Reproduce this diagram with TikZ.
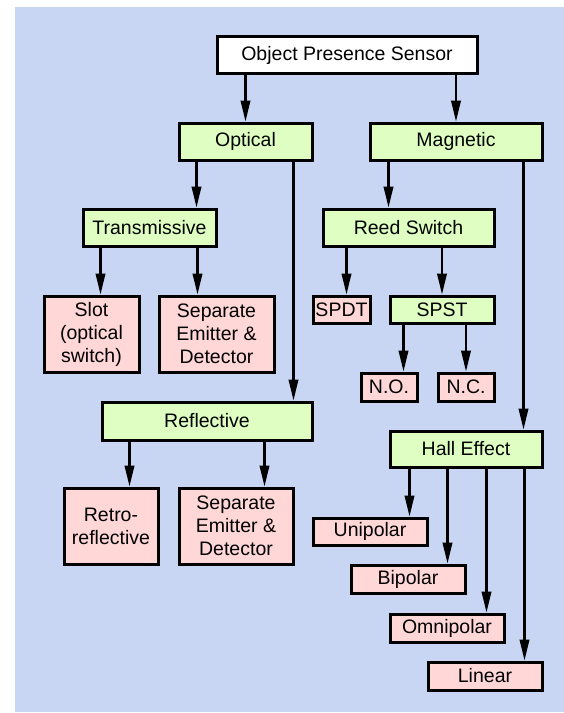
\documentclass[tikz,border=0pt]{standalone}
\usepackage{fontspec}
\setmainfont{Liberation Sans}
\usetikzlibrary{arrows.meta}

\definecolor{bgblue}{RGB}{200,214,243}
\definecolor{catgreen}{RGB}{222,255,193}
\definecolor{leafpink}{RGB}{255,215,215}

\begin{document}
\begin{tikzpicture}[x=1pt,y=-1pt,
    box/.style={draw,line width=3pt,inner sep=0pt,align=center,
        font=\fontsize{19.5}{23}\selectfont},
    rootbox/.style={box,fill=white},
    groupbox/.style={box,fill=catgreen},
    leafbox/.style={box,fill=leafpink},
    arr/.style={line width=2.2pt,-{Triangle[length=21pt,width=9.5pt]}}]

    % page size and blue background
    \useasboundingbox (0,0) rectangle (564,713);
    \fill[bgblue] (15,7) rectangle (564,712);

    % top of the tree
    \node[rootbox,minimum width=260pt,minimum height=37pt] (sensor) at (347,55) {Object Presence Sensor};

    % optical branch
    \node[groupbox,minimum width=133pt,minimum height=37pt] (optical) at (245.5,141.5) {Optical};
    \node[groupbox,minimum width=133pt,minimum height=37pt] (transmissive) at (149.5,227.5) {Transmissive};
    \node[leafbox,minimum width=95pt,minimum height=76pt] (slot) at (91.5,334) {Slot\\(optical\\switch)};
    \node[leafbox,minimum width=115pt,minimum height=76pt] (sepA) at (216.5,334) {Separate\\Emitter \&\\Detector};
    \node[groupbox,minimum width=210pt,minimum height=38pt] (reflective) at (207,421) {Reflective};
    \node[leafbox,minimum width=94pt,minimum height=76pt] (retro) at (111,526) {Retro-\\reflective};
    \node[leafbox,minimum width=114pt,minimum height=76pt] (sepB) at (236,526) {Separate\\Emitter \&\\Detector};

    % magnetic branch
    \node[groupbox,minimum width=172pt,minimum height=37pt] (magnetic) at (456,141.5) {Magnetic};
    \node[groupbox,minimum width=171pt,minimum height=37pt] (reed) at (408.5,227.5) {Reed Switch};
    \node[leafbox,minimum width=57pt,minimum height=27pt] (spdt) at (341.5,309.5) {SPDT};
    \node[groupbox,minimum width=104pt,minimum height=27pt] (spst) at (442,309.5) {SPST};
    \node[leafbox,minimum width=56pt,minimum height=28pt] (no) at (389,387) {N.O.};
    \node[leafbox,minimum width=56pt,minimum height=28pt] (nc) at (466,387) {N.C.};
    \node[groupbox,minimum width=152pt,minimum height=36pt] (hall) at (466,449) {Hall Effect};
    \node[leafbox,minimum width=114pt,minimum height=27pt] (unipolar) at (370,531.5) {Unipolar};
    \node[leafbox,minimum width=114pt,minimum height=28pt] (bipolar) at (408,579) {Bipolar};
    \node[leafbox,minimum width=114pt,minimum height=28pt] (omnipolar) at (447,628) {Omnipolar};
    \node[leafbox,minimum width=114pt,minimum height=28pt] (linear) at (485,676) {Linear};

    % arrows from the top box
    \draw[arr] (sensor.south -| optical.north) -- (optical.north);
    \draw[arr] (sensor.south -| magnetic.north) -- (magnetic.north);

    % optical arrows
    \draw[arr] ([xshift=19pt]optical.south west) -- ([xshift=19pt]optical.south west |- transmissive.north);
    \draw[arr] ([xshift=-20pt]optical.south east) -- ([xshift=-20pt]optical.south east |- reflective.north);
    \draw[arr] ([xshift=19pt]transmissive.south west) -- ([xshift=19pt]transmissive.south west |- slot.north);
    \draw[arr] ([xshift=-20pt]transmissive.south east) -- ([xshift=-20pt]transmissive.south east |- sepA.north);
    \draw[arr] ([xshift=29pt]reflective.south west) -- ([xshift=29pt]reflective.south west |- retro.north);
    \draw[arr] ([xshift=-30pt]sepB.north east |- reflective.south) -- ([xshift=-30pt]sepB.north east);

    % magnetic arrows
    \draw[arr] ([xshift=20pt]magnetic.south west) -- ([xshift=20pt]magnetic.south west |- reed.north);
    \draw[arr] ([xshift=-20pt]magnetic.south east) -- ([xshift=-20pt]magnetic.south east |- hall.north);
    \draw[arr] ([xshift=25pt]reed.south west) -- ([xshift=25pt]reed.south west |- spdt.north);
    \draw[arr] (reed.south -| spst.north) -- (spst.north);
    \draw[arr] ([xshift=15pt]spst.south west) -- ([xshift=15pt]spst.south west |- no.north);
    \draw[arr] (spst.south -| nc.north) -- (nc.north);

    % hall effect outputs
    \foreach \leaf in {unipolar,bipolar,omnipolar,linear}
        \draw[arr] ([xshift=-19pt]\leaf.north east |- hall.south) -- ([xshift=-19pt]\leaf.north east);

\end{tikzpicture}
\end{document}
